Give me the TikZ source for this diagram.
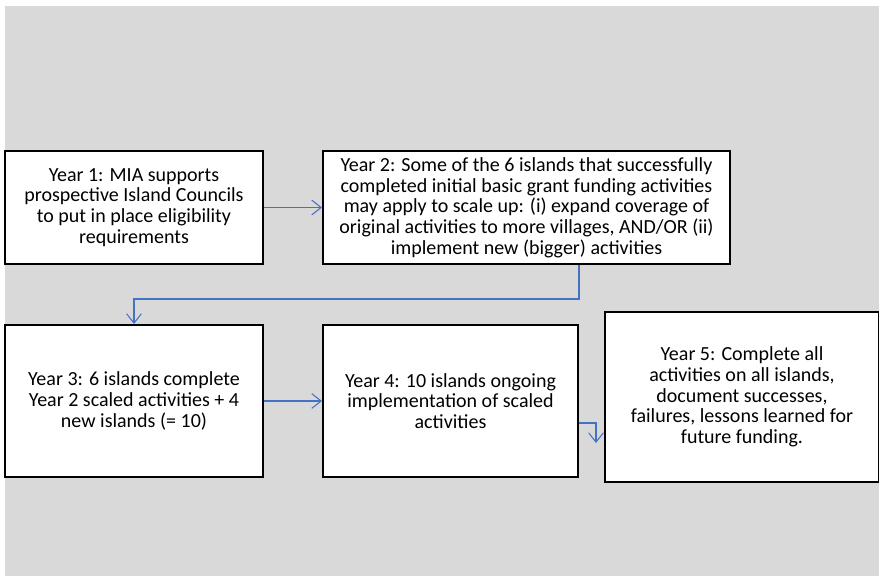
\documentclass[tikz,border=0pt]{standalone}
\usepackage{fontspec}
\setmainfont{Carlito}
\usepackage{xcolor}
\definecolor{mainDark}{HTML}{000000}
\definecolor{pageGray}{HTML}{D9D9D9}
\definecolor{linkBlue}{HTML}{4472C4}
\usepackage{tikz}
\usetikzlibrary{positioning,calc,arrows.meta}
\tikzset{
  yearBox/.style={
    rectangle,
    draw=mainDark,
    line width=1.5pt,
    fill=white,
    align=center,
    inner sep=3pt,
    font=\fontsize{15pt}{15.5pt}\selectfont
 },
  arrowLine/.style={
    -{Straight Barb[length=7pt,width=11pt]},
    line width=0.8pt,
    color=linkBlue
 }
}

\begin{document}
\begin{tikzpicture}
            % page and grey panel
            \useasboundingbox (0,0) rectangle (659.25pt,-432pt);
            \fill[pageGray] (3.75pt,-4.5pt) rectangle (659.25pt,-432pt);

            % Year 1 box
            \node[yearBox, minimum width=193.5pt, minimum height=84.75pt, anchor=north west] (year1) at (3pt,-112.5pt)
                {Year 1: MIA supports\\prospective Island Councils\\to put in place eligibility\\requirements};
            % Year 2 box
            \node[yearBox, minimum width=305.25pt, minimum height=84.75pt, right=43.5pt of year1] (year2)
                {Year 2: Some of the 6 islands that successfully\\completed initial basic grant funding activities\\may apply to scale up: (i) expand coverage of\\original activities to more villages, AND/OR (ii)\\implement new (bigger) activities};

            \draw[arrowLine] (year1) -- (year2);

            % Year 3 box
            \node[yearBox, minimum width=193.5pt, minimum height=114pt, below=44.25pt of year1] (year3)
                {Year 3: 6 islands complete\\Year 2 scaled activities + 4\\new islands (= 10)};
            % Year 4 box
            \node[yearBox, minimum width=191.25pt, minimum height=114pt, right=43.5pt of year3] (year4)
                {Year 4: 10 islands ongoing\\implementation of scaled\\activities};
            % Year 5 box
            \node[yearBox, minimum width=205.5pt, minimum height=127.5pt, right=18.75pt of year4, yshift=3pt] (year5)
                {Year 5: Complete all\\activities on all islands,\\document successes,\\failures, lessons learned for\\future funding.};

            \draw[arrowLine] (year2.south -| year4.east) -- ++(0,-25.5pt) -| (year3.north);
            \draw[arrowLine] (year3) -- (year4);
            \draw[arrowLine] ($(year4.east)+(0,-16.5pt)$) -- ++(12.75pt,0) -- ++(0,-15pt);
        \end{tikzpicture}
\end{document}
